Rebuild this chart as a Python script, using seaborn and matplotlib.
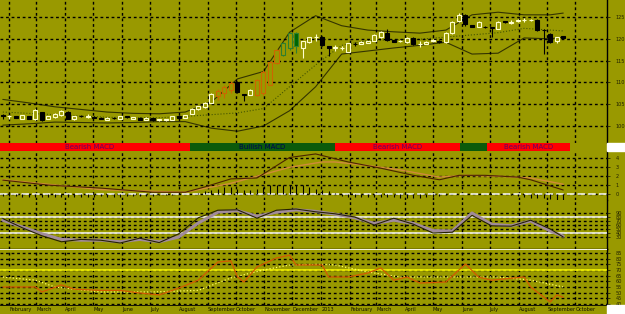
import numpy as np
import pandas as pd
import matplotlib
matplotlib.use("Agg")
import matplotlib.pyplot as plt
from matplotlib.patches import Rectangle
import seaborn as sns

# ---------------- data ----------------
first_week = "2012-01-25"
opens = [102.4, 102.2, 102.2, 101.6, 102.2, 101.5, 103.2, 101.7, 102.0, 102.5,
         103.3, 101.5, 102.4, 102.1, 102.1, 101.9, 101.4, 101.85, 101.7, 102.3,
         101.7, 101.9, 101.4, 101.8, 101.3, 101.3, 101.4, 102.3, 101.9, 102.8,
         103.9, 104.3, 105.3, 106.8, 107.5, 108.2, 110.0, 107.3, 107.1, 107.0,
         107.5, 109.5, 114.4, 116.3, 118.0, 121.3, 117.9, 119.3, 120.3, 120.4,
         118.3, 117.9, 117.8, 117.0, 118.8, 118.9, 119.1, 119.6, 120.3, 121.4,
         119.7, 119.45, 119.2, 120.2, 118.7, 118.9, 119.5, 119.6, 119.2, 121.3,
         124.0, 125.5, 123.1, 122.7, 122.8, 122.55, 122.3, 124.0, 123.7, 124.1,
         124.2, 124.3, 124.3, 122.05, 121.1, 119.4, 120.6]
closes = [102.35, 102.3, 101.9, 102.5, 101.7, 103.6, 101.4, 102.3, 102.7, 103.4,
          101.6, 102.2, 102.2, 102.2, 101.9, 101.7, 101.9, 101.8, 102.3, 102.0,
          102.0, 101.4, 101.9, 101.3, 101.5, 101.5, 102.3, 101.8, 102.5, 104.0,
          104.5, 105.3, 107.3, 108.0, 109.0, 109.8, 107.8, 107.1, 108.3, 110.5,
          112.4, 114.7, 117.4, 119.0, 121.3, 118.3, 119.4, 120.3, 120.4, 118.6,
          118.0, 118.0, 117.9, 119.0, 118.7, 119.3, 119.5, 120.8, 121.5, 119.7,
          119.3, 119.5, 120.1, 118.7, 118.8, 119.3, 119.6, 119.2, 121.3, 123.9,
          125.5, 123.3, 122.8, 123.9, 122.6, 122.5, 123.9, 123.8, 123.8, 124.2,
          124.3, 124.35, 122.0, 122.0, 119.3, 120.4, 120.2]
highs = [102.8, 102.6, 102.3, 102.6, 102.3, 103.8, 103.3, 102.4, 102.9, 103.7,
         103.4, 102.3, 102.5, 102.8, 102.2, 102.0, 102.0, 102.0, 102.4, 102.4,
         102.1, 102.0, 102.0, 101.9, 101.6, 101.7, 102.4, 102.4, 102.6, 104.1,
         104.7, 105.5, 107.5, 108.5, 109.5, 110.3, 110.3, 107.4, 108.5, 110.8,
         112.8, 115.0, 117.6, 119.3, 121.6, 121.5, 119.6, 120.5, 121.2, 120.6,
         118.4, 118.6, 118.4, 119.1, 119.2, 119.4, 119.6, 121.0, 121.7, 122.2,
         119.8, 119.8, 120.3, 120.3, 119.4, 119.4, 120.0, 119.7, 121.5, 124.1,
         125.9, 125.7, 123.2, 124.1, 122.9, 122.8, 124.0, 124.1, 124.2, 124.6,
         124.7, 124.6, 124.5, 122.2, 121.3, 120.5, 120.7]
lows = [101.6, 101.5, 101.8, 101.5, 101.6, 101.3, 101.2, 101.5, 101.9, 102.3,
        101.5, 101.4, 102.1, 101.8, 101.8, 101.6, 101.3, 101.6, 101.6, 101.9,
        101.6, 101.3, 101.3, 101.2, 101.2, 101.2, 101.3, 101.7, 101.8, 102.7,
        103.7, 104.2, 105.2, 106.0, 106.5, 107.5, 107.5, 105.7, 107.0, 106.8,
        107.2, 109.3, 114.2, 116.0, 117.5, 116.8, 115.5, 119.0, 119.6, 118.4,
        116.0, 117.3, 117.4, 116.9, 118.3, 118.8, 119.0, 119.5, 120.2, 119.5,
        119.2, 119.2, 119.0, 118.5, 118.2, 118.8, 119.2, 119.0, 119.0, 121.2,
        123.8, 123.0, 122.6, 122.6, 122.5, 120.4, 122.2, 123.7, 123.4, 123.8,
        123.9, 124.0, 121.8, 116.6, 119.1, 119.0, 120.0]
# b/w = standard candle, o = orange highlight, g = green hollow, G = green filled
candle_kind = list("bwbwbwbwww" "bwbwbbwbwb" "wbwbwwwbww" "wwwooobbwo" "oooggGwwwb"
                   "bwwwbwwwwb" "bwwbwwwbww" "wbbwbbwbww" "wwbbbwb")

band_idx = [0, 4, 8, 12, 16, 20, 24, 28, 32, 36, 40, 44, 48, 52, 56, 60, 64, 68, 72, 76, 80, 84, 86]
upper_band = [106.1, 105.3, 104.4, 103.8, 103.2, 102.9, 102.8, 103.2, 105.5, 110.8, 112.5, 121.5,
              125.3, 123.0, 122.0, 121.6, 121.3, 122.0, 125.5, 126.1, 125.5, 125.5, 125.9]
middle_band = [103.2, 102.9, 102.6, 102.3, 102.0, 101.9, 101.9, 102.2, 102.6, 103.0, 104.0, 109.0,
               114.0, 118.5, 119.6, 119.8, 119.9, 120.4, 120.9, 121.4, 122.4, 122.0, 121.8]
lower_band = [100.2, 100.5, 100.9, 100.8, 100.7, 100.8, 101.0, 101.0, 99.5, 98.8, 100.0, 103.5,
              109.0, 116.5, 117.2, 117.9, 118.5, 119.2, 116.5, 116.7, 120.2, 120.0, 120.4]

macd_idx = [0, 7, 15, 23, 28, 31, 35, 39, 44, 48, 53, 58, 63, 67, 70, 74, 79, 81, 86]
macd_line = [1.56, 1.0, 0.67, 0.2, 0.2, 0.8, 1.7, 1.8, 4.1, 4.5, 3.6, 2.9, 2.1, 1.6, 2.1, 2.1, 1.9, 1.6, 0.45]
signal_idx = [0, 15, 28, 35, 44, 49, 51, 56, 61, 67, 71, 76, 81, 86]
signal_line = [1.6, 0.5, 0.2, 1.2, 3.0, 3.6, 3.6, 3.2, 2.7, 1.9, 2.1, 2.0, 1.8, 1.1]
macd_hist = [-0.2, -0.2, -0.25, -0.3, -0.3, -0.3, -0.35, -0.3, -0.3, -0.35,
             -0.3, -0.3, -0.3, -0.3, -0.3, -0.25, -0.3, -0.3, -0.3, -0.25,
             -0.2, -0.25, -0.2, -0.2, -0.15, -0.1, -0.1, -0.05, 0.0, 0.05,
             0.1, 0.3, 0.4, 0.6, 0.8, 0.8, 0.6, 0.4, 0.4, 0.6,
             0.8, 1.0, 1.0, 1.0, 1.0, 1.0, 1.0, 0.8, 0.6, 0.45,
             0.3, 0.1, -0.2, -0.3, -0.3, -0.3, -0.3, -0.3, -0.3, -0.3,
             -0.35, -0.4, -0.4, -0.45, -0.4, -0.35, -0.3, -0.2, -0.1, 0.0,
             0.05, 0.05, 0.0, -0.05, -0.05, -0.05, -0.05, -0.05, -0.1, -0.2,
             -0.3, -0.4, -0.4, -0.5, -0.6, -0.7, -0.8]

osc_idx = [0, 3, 6, 9, 12, 15, 18, 21, 24, 27, 30, 33, 36, 39, 42, 45, 48, 51, 54, 57,
           60, 63, 66, 69, 72, 75, 78, 81, 84, 86]
rsi_line = [76, 53, 33, 18, 24, 22, 15, 27, 16, 38, 78, 97, 98, 77, 97, 100, 93, 88, 80, 60,
            77, 62, 40, 42, 84, 58, 57, 72, 50, 30]
rsi_avg = [72, 55, 38, 24, 22, 22, 18, 24, 18, 30, 65, 92, 96, 82, 92, 98, 94, 87, 78, 64,
           72, 64, 46, 45, 90, 62, 58, 70, 45, 32]

stoch_k_idx = [0, 5, 6, 9, 11, 15, 18, 21, 24, 27, 30, 33, 35, 36, 37, 39, 42, 44, 45, 49,
               50, 53, 56, 58, 60, 62, 64, 68, 71, 73, 75, 80, 81, 82, 84, 85, 86]
stoch_k = [55, 55, 50.6, 56.8, 53, 52, 52, 49.7, 48, 54, 61, 77, 78, 64, 59.4, 72.6, 80.6, 83, 74.4, 74.4,
           63.8, 63.8, 67.3, 71.8, 61, 63.8, 58.5, 59.4, 75.3, 63.8, 61, 63.8, 55, 50.6, 41.8, 48, 46]
stoch_d_idx = [0, 5, 8, 15, 23, 30, 35, 40, 44, 49, 51, 56, 61, 66, 71, 76, 81, 86]
stoch_d = [63.8, 61, 55, 50.6, 50.6, 52, 63, 70, 74.4, 75, 74.4, 68.2, 63.8, 63.8, 63.8, 63.8, 61, 55]

macd_seg_start = ["2012-01-10", "2012-08-13", "2013-01-16", "2013-05-30", "2013-06-28"]
macd_seg_end = ["2012-08-13", "2013-01-16", "2013-05-30", "2013-06-28", "2013-09-25"]
macd_seg_state = ["bear", "bull", "bear", "bull", "bear"]
macd_seg_text = ["Bearish MACD", "Bullish MACD", "Bearish MACD", "", "Bearish MACD"]

month_starts = ["2012-02-01", "2012-03-01", "2012-04-01", "2012-05-01", "2012-06-01", "2012-07-01",
                "2012-08-01", "2012-09-01", "2012-10-01", "2012-11-01", "2012-12-01", "2013-01-01",
                "2013-02-01", "2013-03-01", "2013-04-01", "2013-05-01", "2013-06-01", "2013-07-01",
                "2013-08-01", "2013-09-01", "2013-10-01"]
month_labels = ["February", "March", "April", "May", "June", "July", "August", "September", "October",
                "November", "December", "2013", "February", "March", "April", "May", "June", "July",
                "August", "September", "October"]

price_ticks = [100, 105, 110, 115, 120, 125]
macd_ticks = [0, 1, 2, 3, 4]
rsi_ticks = [30, 40, 50, 60, 70, 80, 90]
rsi_levels = [80, 40]
stoch_ticks = [40, 45, 50, 55, 60, 65, 70, 75, 80, 85]
stoch_level = 70

# ---------------- styling ----------------
BG = "#999900"
sns.set_theme(style="white")
plt.rcParams["font.family"] = ["DejaVu Sans"]
plt.rcParams["axes.axisbelow"] = False

W, H = 625, 314
fig = plt.figure(figsize=(W / 100, H / 100), dpi=100)
fig.patch.set_facecolor(BG)

weeks = pd.date_range(first_week, periods=len(opens), freq="7D")
xmin, xmax = pd.Timestamp("2012-01-22"), pd.Timestamp("2013-11-04")
mdates_list = pd.to_datetime(month_starts)


def add_panel(y0, y1, ticks, ylim):
    ax = fig.add_axes([0, (H - y1) / H, 607 / W, (y1 - y0) / H])
    ax.set_facecolor(BG)
    ax.set_xlim(xmin, xmax)
    ax.set_ylim(*ylim)
    for s in ["top", "left", "bottom"]:
        ax.spines[s].set_visible(False)
    ax.spines["right"].set_color("black")
    ax.spines["right"].set_linewidth(1)
    ax.set_xticks(mdates_list)
    ax.tick_params(axis="x", length=0, labelbottom=False)
    ax.yaxis.tick_right()
    ax.set_yticks(ticks)
    ax.set_yticklabels([str(t) for t in ticks])
    ax.tick_params(axis="y", direction="out", length=2, width=0.6, labelsize=3.6,
                   pad=4, colors="#222200")
    ax.grid(True, which="major", axis="both", color="black", linewidth=1.0,
            linestyle=(0, (2, 2)), alpha=1.0)
    return ax


# ---- price panel ----
axp = add_panel(0, 143, price_ticks, (96.1, 128.9))
band_dates = weeks[band_idx]
sns.lineplot(x=band_dates, y=upper_band, ax=axp, color="#333300", lw=0.8, legend=False, zorder=2)
sns.lineplot(x=band_dates, y=lower_band, ax=axp, color="#333300", lw=0.8, legend=False, zorder=2)
sns.lineplot(x=band_dates, y=middle_band, ax=axp, color="#445500", lw=0.8, ls=":", legend=False, zorder=2)

o = np.array(opens); c = np.array(closes); hi = np.array(highs); lo = np.array(lows)
kind = np.array(candle_kind)
up = c >= o
body_lo = np.minimum(o, c)
body_h = np.maximum(np.abs(c - o), 0.12)
green = np.isin(kind, ["g", "G"])
edge = np.where(kind == "o", "#cc6600", np.where(green, "#2f7f2f", np.where(up, "#ffffcc", "black")))
face = np.where(kind == "G", "#006600",
                np.where((kind == "o") | (kind == "g") | up, BG, "black"))
axp.vlines(weeks, lo, hi, colors=list(edge), lw=0.8, zorder=3)
axp.bar(weeks, body_h, bottom=body_lo, width=4.3, color=list(face), edgecolor=list(edge),
        linewidth=0.8, zorder=4)
axp.set_xlabel(""); axp.set_ylabel("")

# ---- MACD state strip ----
axs = fig.add_axes([0, (H - 151) / H, 607 / W, 8 / H])
axs.set_facecolor(BG)
axs.set_xlim(xmin, xmax)
axs.set_ylim(0, 1)
axs.axis("off")
for s0, s1, st, tx in zip(macd_seg_start, macd_seg_end, macd_seg_state, macd_seg_text):
    d0, d1 = pd.Timestamp(s0), pd.Timestamp(s1)
    axs.axvspan(d0, d1, color="#ff0000" if st == "bear" else "#0b5a0b", lw=0)
    if tx:
        axs.text(d0 + (d1 - d0) / 2, 0.45, tx, ha="center", va="center", fontsize=5,
                 color="#660066" if st == "bear" else "#000055")

# ---- MACD panel ----
axm = add_panel(151, 200, macd_ticks, (-0.67, 4.83))
axm.axhline(0, color="white", lw=1.1, ls=(0, (5, 2)), zorder=2.6)
axm.vlines(weeks, 0, macd_hist, colors="black", lw=0.8, zorder=3)
sns.lineplot(x=weeks[signal_idx], y=signal_line, ax=axm, color="#d08a3a", lw=1.0, legend=False, zorder=4)
sns.lineplot(x=weeks[macd_idx], y=macd_line, ax=axm, color="#4a2200", lw=0.8, legend=False, zorder=4)
axm.set_xlabel(""); axm.set_ylabel("")

# ---- RSI panel ----
axr = add_panel(200, 249, rsi_ticks, (0, 122.5))
for lv in rsi_levels:
    axr.axhline(lv, color="white", lw=1.1, zorder=2.6)
sns.lineplot(x=weeks[osc_idx], y=rsi_avg, ax=axr, color="#a08a9a", lw=2.2, legend=False, zorder=3)
sns.lineplot(x=weeks[osc_idx], y=rsi_line, ax=axr, color="#262200", lw=0.8, legend=False, zorder=4)
axr.spines["bottom"].set_visible(True)
axr.spines["bottom"].set_color("black")
axr.spines["bottom"].set_linewidth(1.0)
axr.set_xlabel(""); axr.set_ylabel("")

# ---- stochastic panel ----
axk = add_panel(249, 305, stoch_ticks, (39.1, 88.5))
axk.axhline(stoch_level, color="#ffff00", lw=1.1, zorder=2.6)
axk.axhline(88.2, color="white", lw=1.3, zorder=2.6)
sns.lineplot(x=weeks[stoch_d_idx], y=stoch_d, ax=axk, color="#ffff66", lw=0.9, ls=":", legend=False, zorder=3)
sns.lineplot(x=weeks[stoch_k_idx], y=stoch_k, ax=axk, color="#d45a00", lw=0.9, legend=False, zorder=4)
axk.spines["bottom"].set_visible(True)
axk.spines["bottom"].set_color("black")
axk.spines["bottom"].set_linewidth(0.6)
axk.set_xticks(mdates_list)
axk.set_xticklabels(month_labels)
axk.tick_params(axis="x", labelbottom=True, labelsize=3.6, pad=1.5, length=0, colors="#111100")
for lab in axk.get_xticklabels():
    lab.set_ha("left")
axk.set_xticks(weeks, minor=True)
axk.tick_params(axis="x", which="minor", length=1.5, width=0.5, direction="out", color="black")
axk.set_xlabel(""); axk.set_ylabel("")

# white boxes at right
fig.patches.append(Rectangle((607 / W, (H - 151) / H), 18 / W, 8 / H, transform=fig.transFigure,
                             color="white", zorder=5))
fig.patches.append(Rectangle((607 / W, 0), 18 / W, 9 / H, transform=fig.transFigure,
                             color="white", zorder=5))

fig.savefig("out.png", dpi=100, facecolor=BG)
